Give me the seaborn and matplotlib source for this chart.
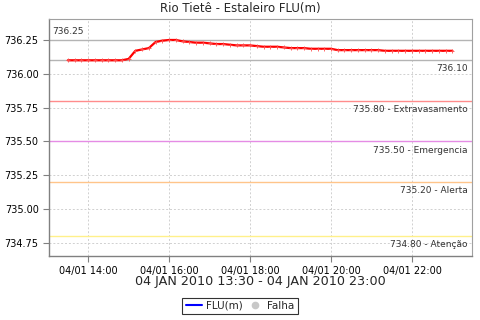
import matplotlib
matplotlib.use("Agg")
import matplotlib.pyplot as plt
import matplotlib.dates as mdates
from matplotlib.lines import Line2D
import matplotlib.transforms as mtransforms
import seaborn as sns
import pandas as pd

sns.set_theme(style="white")
plt.rcParams['font.family'] = ['DejaVu Sans']

title = "Rio Tietê - Estaleiro FLU(m)"
xlabel = "04 JAN 2010 13:30 - 04 JAN 2010 23:00"

times = pd.date_range("2010-01-04 13:30", "2010-01-04 23:00", freq="10min")
flu = [736.10, 736.10, 736.10, 736.10, 736.10, 736.10, 736.10, 736.10, 736.10,
       736.11, 736.17, 736.18, 736.19, 736.235, 736.245, 736.25, 736.25, 736.24,
       736.235, 736.23, 736.23, 736.225, 736.22, 736.22, 736.215, 736.21, 736.21,
       736.21, 736.205, 736.20, 736.20, 736.20, 736.195, 736.19, 736.19, 736.19,
       736.185, 736.185, 736.185, 736.185,
       736.175, 736.175, 736.175, 736.175, 736.175, 736.175, 736.175,
       736.17, 736.17, 736.17, 736.17, 736.17, 736.17, 736.17, 736.17, 736.17,
       736.17, 736.17]

ref_values = [736.25, 736.10, 735.80, 735.50, 735.20, 734.80]
ref_labels = ["736.25", "736.10", "735.80 - Extravasamento", "735.50 - Emergencia",
              "735.20 - Alerta", "734.80 - Atenção"]
ref_colors = ["#b4b4b4", "#b4b4b4", "#ff8c8c", "#e58ce5", "#ffc58a", "#fff08a"]

yticks = [734.75, 735.00, 735.25, 735.50, 735.75, 736.00, 736.25]

df = pd.DataFrame({"time": times, "FLU(m)": flu})

fig = plt.figure(figsize=(4.8, 3.2), dpi=100)
ax = fig.add_axes([49/480, 64/320, 423/480, 237/320])

for v, c in zip(ref_values, ref_colors):
    ax.axhline(v, color=c, lw=1.0, zorder=1)

sns.lineplot(data=df, x="time", y="FLU(m)", ax=ax, color="red", lw=1.6,
             marker="+", markersize=3, markeredgewidth=0.6,
             markeredgecolor="#ff5050", markerfacecolor="red", zorder=3)

trans = mtransforms.blended_transform_factory(ax.transAxes, ax.transData)
for i, (v, lab) in enumerate(zip(ref_values, ref_labels)):
    if i == 0:
        ax.annotate(lab, xy=(0.007, v), xycoords=trans, xytext=(0, 3),
                    textcoords="offset points", ha="left", va="bottom",
                    fontsize=6.5, color="#333333")
    else:
        ax.annotate(lab, xy=(0.99, v), xycoords=trans, xytext=(0, -3),
                    textcoords="offset points", ha="right", va="top",
                    fontsize=6.5, color="#333333")

ax.set_xlim(pd.Timestamp("2010-01-04 13:02"), pd.Timestamp("2010-01-04 23:29"))
ax.set_ylim(734.654, 736.405)
ax.set_yticks(yticks)
ax.yaxis.set_major_formatter(plt.FormatStrFormatter("%.2f"))
ax.xaxis.set_major_locator(mdates.HourLocator(byhour=[14, 16, 18, 20, 22]))
ax.xaxis.set_major_formatter(mdates.DateFormatter("%d/%m %H:%M"))

ax.grid(True, color="#d0d0d0", linestyle=(0, (2, 2)), lw=0.7)
ax.set_axisbelow(True)
ax.tick_params(axis="both", labelsize=7, colors="#808080", labelcolor="black",
               length=4, width=0.8, direction="out", left=True, bottom=True)
for s in ["top", "right"]:
    ax.spines[s].set_color("#a0a0a0")
    ax.spines[s].set_linewidth(0.8)
for s in ["left", "bottom"]:
    ax.spines[s].set_color("#808080")
    ax.spines[s].set_linewidth(1.0)

ax.set_xlabel("")
ax.set_ylabel("")
fig.text(0.5, 0.972, title, ha="center", va="center", fontsize=8.5)
fig.text((49 + 472) / 2 / 480, 0.119, xlabel, ha="center", va="center", fontsize=9.2)

handles = [Line2D([0], [0], color="blue", lw=1.5),
           Line2D([0], [0], color="#c8c8c8", marker="o", lw=0, markersize=4.5)]
leg = fig.legend(handles, ["FLU(m)", "Falha"], loc="center",
                 bbox_to_anchor=(0.5, 0.044), ncol=2, fontsize=7.5, frameon=True,
                 fancybox=False, handlelength=1.6, handletextpad=0.4,
                 columnspacing=0.3, borderpad=0.3, borderaxespad=0)
leg.get_frame().set_edgecolor("black")
leg.get_frame().set_linewidth(0.8)

fig.savefig("out.png", dpi=100, facecolor="white")
